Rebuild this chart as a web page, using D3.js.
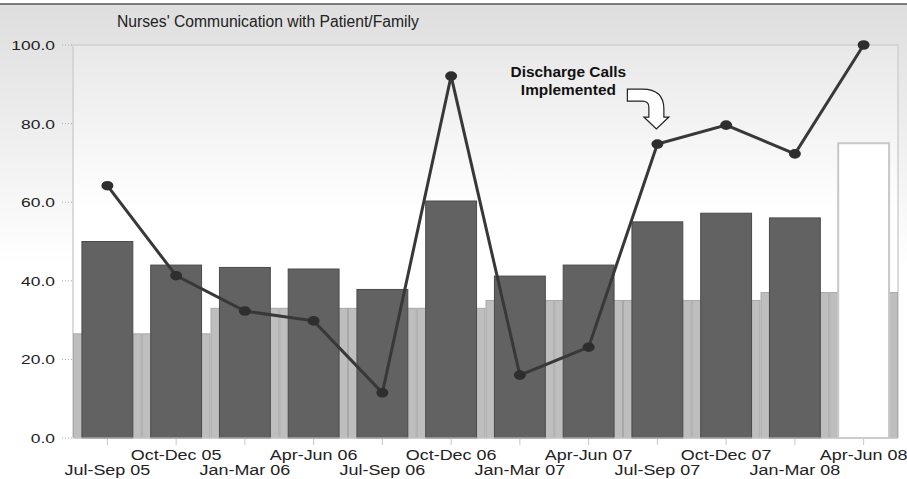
<!DOCTYPE html>
<html>
<head>
<meta charset="utf-8">
<script src="https://cdn.jsdelivr.net/npm/d3@7"></script>
<style>
body { margin: 0; background: #fff; }
svg { display: block; }
text { font-family: Arial, "Liberation Sans", sans-serif; }
</style>
</head>
<body>
<svg id="chart"></svg>
<script>
// quarters on the x axis
var quarters = ["Jul-Sep 05", "Oct-Dec 05", "Jan-Mar 06", "Apr-Jun 06", "Jul-Sep 06", "Oct-Dec 06",
                "Jan-Mar 07", "Apr-Jun 07", "Jul-Sep 07", "Oct-Dec 07", "Jan-Mar 08", "Apr-Jun 08"];
// light grey benchmark bars
var benchmark = [26.5, 26.5, 33, 33, 33, 33, 35, 35, 35, 35, 37, 37];
// dark bars (last quarter is drawn hollow)
var barValues = [50, 44, 43.4, 43, 37.8, 60.3, 41.2, 44, 55, 57.2, 56, 75];
// line with dots
var lineValues = [64.2, 41.3, 32.3, 29.8, 11.5, 92.1, 16, 23.1, 74.8, 79.6, 72.3, 100];
var yTicks = [0, 20, 40, 60, 80, 100];
var partialQuarter = "Apr-Jun 08";
var noteQuarter = "Jul-Sep 07";
var noteLines = ["Discharge Calls", "Implemented"];
var title = "Nurses' Communication with Patient/Family";

var width = 907, height = 479;
var plot = {left: 73, right: 898, top: 45, bottom: 438};

var svg = d3.select("#chart").attr("width", width).attr("height", height);

// stretch text horizontally like the original
function stretch(sel, k) {
  sel.each(function() {
    var w = this.getComputedTextLength();
    d3.select(this).attr("textLength", w * k).attr("lengthAdjust", "spacingAndGlyphs");
  });
}

var defs = svg.append("defs");
var bgGrad = defs.append("linearGradient").attr("id", "bg").attr("x1", 0).attr("y1", 0).attr("x2", 0).attr("y2", 1);
bgGrad.append("stop").attr("offset", "0%").attr("stop-color", "#dedede");
bgGrad.append("stop").attr("offset", "55%").attr("stop-color", "#ffffff");
var plotGrad = defs.append("linearGradient").attr("id", "plotbg").attr("x1", 0).attr("y1", 0).attr("x2", 0).attr("y2", 1);
plotGrad.append("stop").attr("offset", "0%").attr("stop-color", "#e8e8e8");
plotGrad.append("stop").attr("offset", "42%").attr("stop-color", "#ffffff");

// background
svg.append("rect").attr("x", 0).attr("y", 4).attr("width", width).attr("height", height - 4).attr("fill", "url(#bg)");
svg.append("line").attr("x1", 0).attr("x2", width).attr("y1", 4).attr("y2", 4)
  .attr("stroke", "#555").attr("stroke-width", 1.5);

svg.append("rect")
  .attr("x", plot.left).attr("y", plot.top)
  .attr("width", plot.right - plot.left).attr("height", plot.bottom - plot.top)
  .attr("fill", "url(#plotbg)");
svg.append("path")
  .attr("d", "M" + plot.left + "," + plot.bottom + "V" + plot.top + "H" + plot.right + "V" + plot.bottom)
  .attr("fill", "none").attr("stroke", "#cfcfcf").attr("stroke-width", 1.5);

// scales
var x = d3.scaleBand().domain(quarters).range([plot.left, plot.right]).padding(0);
var y = d3.scaleLinear().domain([0, 100]).range([plot.bottom, plot.top]);
var barW = x.bandwidth() * 0.74;

// y axis labels + dotted tick stubs
var yAxis = svg.append("g");
yAxis.selectAll("line").data(yTicks).enter().append("line")
  .attr("x1", plot.left - 11).attr("x2", plot.left - 1)
  .attr("y1", function(d) { return y(d); }).attr("y2", function(d) { return y(d); })
  .attr("stroke", "#aaa").attr("stroke-dasharray", "1,2");
yAxis.selectAll("text").data(yTicks).enter().append("text")
  .attr("x", 55).attr("y", function(d) { return y(d) + 5; })
  .attr("text-anchor", "end").attr("font-size", 13).attr("fill", "#222")
  .text(function(d) { return d.toFixed(1); })
  .call(stretch, 1.34);

// benchmark bars
svg.append("g").selectAll("rect").data(quarters).enter().append("rect")
  .attr("x", function(d) { return x(d) + 0.5; })
  .attr("y", function(d, i) { return y(benchmark[i]); })
  .attr("width", x.bandwidth() - 1)
  .attr("height", function(d, i) { return y(0) - y(benchmark[i]); })
  .attr("fill", "#bebebe").attr("stroke", "#a8a8a8").attr("stroke-width", 1);

// main bars
svg.append("g").selectAll("rect").data(quarters).enter().append("rect")
  .attr("x", function(d) { return x(d) + (x.bandwidth() - barW) / 2; })
  .attr("y", function(d, i) { return y(barValues[i]); })
  .attr("width", barW)
  .attr("height", function(d, i) { return y(0) - y(barValues[i]); })
  .attr("fill", function(d) { return d === partialQuarter ? "#ffffff" : "#626262"; })
  .attr("stroke", function(d) { return d === partialQuarter ? "#c8c8c8" : "#4a4a4a"; })
  .attr("stroke-width", function(d) { return d === partialQuarter ? 2 : 1; });

// baseline
svg.append("line").attr("x1", plot.left).attr("x2", plot.right).attr("y1", plot.bottom).attr("y2", plot.bottom)
  .attr("stroke", "#cfcfcf");

// x axis ticks and staggered labels
var cx = function(d) { return x(d) + x.bandwidth() / 2; };
var xAxis = svg.append("g");
xAxis.selectAll("line").data(quarters).enter().append("line")
  .attr("x1", cx).attr("x2", cx).attr("y1", plot.bottom + 1).attr("y2", plot.bottom + 7)
  .attr("stroke", "#c8c8c8");
xAxis.selectAll("text").data(quarters).enter().append("text")
  .attr("x", cx)
  .attr("y", function(d, i) { return i % 2 === 0 ? 475 : 460; })
  .attr("text-anchor", "middle").attr("font-size", 14).attr("fill", "#222")
  .text(function(d) { return d; })
  .call(stretch, 1.28);

// line series
var line = d3.line()
  .x(function(d, i) { return cx(quarters[i]); })
  .y(function(d) { return y(d); });
svg.append("path").datum(lineValues)
  .attr("d", line).attr("fill", "none").attr("stroke", "#383838").attr("stroke-width", 3);
svg.append("g").selectAll("ellipse").data(lineValues).enter().append("ellipse")
  .attr("cx", function(d, i) { return cx(quarters[i]); })
  .attr("cy", function(d) { return y(d); })
  .attr("rx", 6).attr("ry", 4.8)
  .attr("fill", "#2e2e2e");

// title
svg.append("text").attr("x", 117).attr("y", 27)
  .attr("font-size", 16).attr("fill", "#222").text(title)
  .call(stretch, 0.98);

// annotation: curved hollow arrow pointing at the note quarter
var ni = quarters.indexOf(noteQuarter);
var tipX = cx(noteQuarter) - 1, tipY = y(lineValues[ni]) - 15;
var arrow = "M-29,-40 L-14,-40 Q7.5,-40 7.5,-20 L7.5,-12 L12.5,-12 L0,0 L-12.5,-12 L-7.5,-12 " +
            "L-7.5,-22 Q-7.5,-28 -14,-28 L-29,-28 Z";
svg.append("path").attr("d", arrow)
  .attr("transform", "translate(" + tipX + "," + tipY + ")")
  .attr("fill", "#fff").attr("stroke", "#222").attr("stroke-width", 1.2);
svg.append("g").selectAll("text").data(noteLines).enter().append("text")
  .attr("x", tipX - 88)
  .attr("y", function(d, i) { return tipY - 52 + i * 18; })
  .attr("text-anchor", "middle").attr("font-size", 14).attr("font-weight", "bold").attr("fill", "#111")
  .text(function(d) { return d; })
  .call(stretch, 1.1);
</script>
</body>
</html>
